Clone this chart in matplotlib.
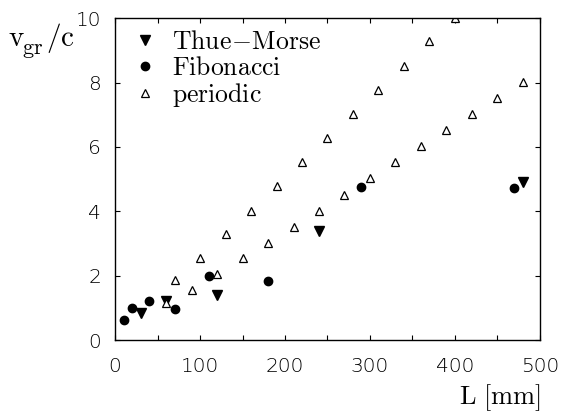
import matplotlib
matplotlib.use("Agg")
import matplotlib.pyplot as plt
from matplotlib.ticker import MultipleLocator, FixedLocator

plt.rcParams['mathtext.fontset'] = 'cm'

# Data
tm_L = [30, 60, 120, 240, 480]
tm_v = [0.83, 1.2, 1.4, 3.4, 4.9]

fib_L = [10, 20, 40, 70, 110, 180, 290, 470]
fib_v = [0.62, 1.0, 1.22, 0.95, 2.0, 1.83, 4.77, 4.71]

per_L = [60, 70, 90, 100, 120, 130, 150, 160, 180, 190, 210, 220, 240, 250,
         270, 280, 300, 310, 330, 340, 360, 370, 390, 400, 420, 450, 480]
per_v = [1.15, 1.85, 1.55, 2.55, 2.05, 3.28, 2.55, 4.0, 3.0, 4.78, 3.52, 5.52,
         4.02, 6.28, 4.52, 7.02, 5.03, 7.78, 5.52, 8.52, 6.02, 9.28, 6.53, 10.02,
         7.02, 7.52, 8.03]

x_ticks = [0, 100, 200, 300, 400, 500]
y_ticks = [0, 2, 4, 6, 8, 10]

fig = plt.figure(figsize=(5.63, 4.15), dpi=100)
ax = fig.add_axes([0.2043, 0.1807, 0.7548, 0.7752])

ax.plot(tm_L, tm_v, linestyle='none', marker='v', ms=7.5, color='black',
        label=r'$\mathrm{Thue\!-\!Morse}$')
ax.plot(fib_L, fib_v, linestyle='none', marker='o', ms=6, color='black',
        label=r'$\mathrm{Fibonacci}$')
ax.plot(per_L, per_v, linestyle='none', marker='^', ms=5.5, mfc='white',
        mec='black', mew=0.9, label=r'$\mathrm{periodic}$')

ax.set_xlim(0, 500)
ax.set_ylim(0, 10)
ax.xaxis.set_major_locator(FixedLocator(x_ticks))
ax.yaxis.set_major_locator(FixedLocator(y_ticks))
ax.xaxis.set_minor_locator(MultipleLocator(50))
ax.tick_params(which='both', direction='in', top=True, right=True,
               length=3.5, width=0.8)
ax.tick_params(axis='x', pad=12, labelsize=14.5)
ax.tick_params(axis='y', pad=10, labelsize=14.5)
for lab in ax.get_xticklabels() + ax.get_yticklabels():
    lab.set_fontweight('light')
for s in ax.spines.values():
    s.set_linewidth(1.0)

leg = ax.legend(loc='upper left', frameon=False, fontsize=18.5, handletextpad=0.55,
                labelspacing=0.0, borderaxespad=0.0, handlelength=1.0,
                bbox_to_anchor=(0.017, 1.0))

fig.text(8 / 563, 1 - 38 / 415, r'$\mathrm{v}$', fontsize=21,
         ha='left', va='center')
fig.text(22 / 563, 1 - 50 / 415, r'$\mathrm{gr}$', fontsize=16,
         ha='left', va='center')
fig.text(46 / 563, 1 - 38 / 415, r'$/\mathrm{c}$', fontsize=21,
         ha='left', va='center')
fig.text(500 / 563, 1 - 398 / 415, r'$\mathrm{L\ [mm]}$', fontsize=19,
         ha='center', va='center')

fig.savefig('out.png', dpi=100)
